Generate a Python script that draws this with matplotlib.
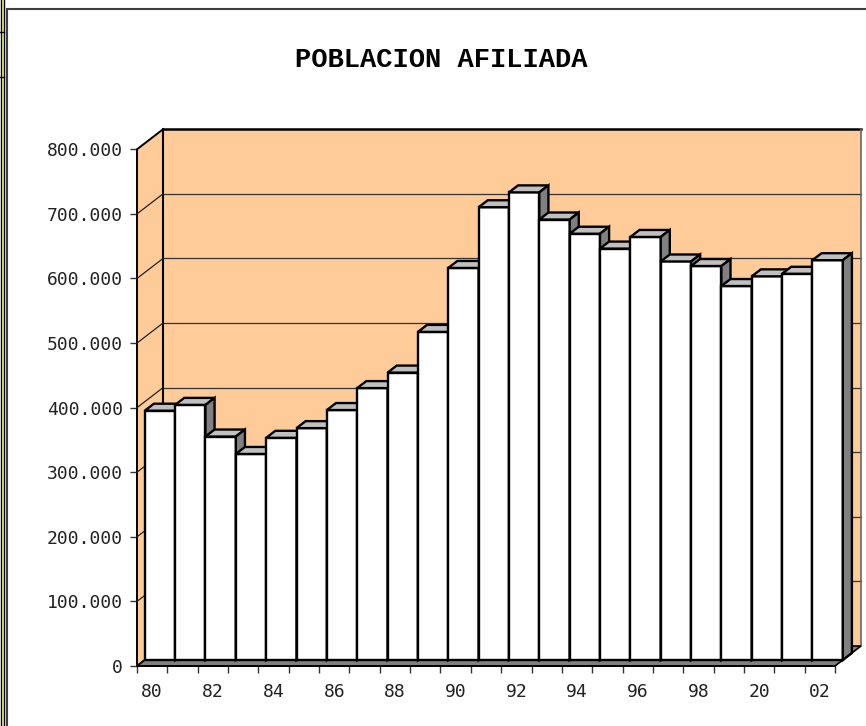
import numpy as np
import matplotlib.pyplot as plt
from matplotlib.patches import Polygon, Rectangle
from matplotlib.lines import Line2D

years = ['80', '81', '82', '83', '84', '85', '86', '87', '88', '89', '90', '91',
         '92', '93', '94', '95', '96', '97', '98', '99', '20', '01', '02']
afiliados = [386000, 395000, 346000, 319000, 344000, 359000, 387000, 421000,
             445000, 508000, 607000, 701000, 724000, 682000, 660000, 637000,
             655000, 617000, 610000, 579000, 594000, 598000, 619000]
yticks = np.arange(0, 800001, 100000)

W, H = 866, 726
n = len(years)
ymax = 800000

# oblique depth of the 3D box, in data units
DX = 26 / (698 / n)
DY = 20 * ymax / 516.7
wall = '#FFCC99'

fig = plt.figure(figsize=(W / 100, H / 100), dpi=100)
ax = fig.add_axes([137 / W, (H - 666) / H, 698 / W, (666 - 149.3) / H])
ax.set_xlim(0, n)
ax.set_ylim(0, ymax)
for s in ax.spines.values():
    s.set_visible(False)
ax.patch.set_visible(False)


def poly(pts, fc, ec='black', lw=1.4, z=1):
    ax.add_patch(Polygon(pts, closed=True, fc=fc, ec=ec, lw=lw, zorder=z,
                         clip_on=False, joinstyle='miter'))


# back wall and left wall
poly([(DX, DY), (n + DX, DY), (n + DX, ymax + DY), (DX, ymax + DY)], wall, ec='none', z=1)
poly([(0, 0), (0, ymax), (DX, ymax + DY), (DX, DY)], wall, lw=1.4, z=2)
for v in yticks[1:-1]:
    ax.add_line(Line2D([DX, n + DX], [v + DY] * 2, color='#333333', lw=0.9, zorder=1.5, clip_on=False))
    ax.add_line(Line2D([0, DX], [v, v + DY], color='#222222', lw=0.9, zorder=2.5, clip_on=False))
ax.add_line(Line2D([DX, n + DX], [ymax + DY] * 2, color='black', lw=1.8, zorder=2, clip_on=False))
ax.add_line(Line2D([DX, DX], [DY, ymax + DY], color='black', lw=1.5, zorder=2, clip_on=False))
ax.add_line(Line2D([n + DX, n + DX], [DY, ymax + DY], color='#666666', lw=1.2, zorder=2, clip_on=False))

# floor
poly([(0, 0), (n, 0), (n + DX, DY), (DX, DY)], '#808080', lw=1.2, z=3)

# bars
f0, f1 = 0.3, 0.65
for i, v in enumerate(afiliados):
    x0 = i + f0 * DX
    x1 = x0 + 1
    y0 = f0 * DY
    y1 = v + y0
    ddx = (f1 - f0) * DX
    ddy = (f1 - f0) * DY
    z = 4 + i * 0.1
    poly([(x0, y0), (x1, y0), (x1, y1), (x0, y1)], 'white', lw=1.7, z=z)
    poly([(x0, y1), (x1, y1), (x1 + ddx, y1 + ddy), (x0 + ddx, y1 + ddy)], '#C0C0C0', lw=1.7, z=z)
    poly([(x1, y0), (x1 + ddx, y0 + ddy), (x1 + ddx, y1 + ddy), (x1, y1)], '#808080', lw=1.7, z=z)

ax.add_line(Line2D([0, n], [0, 0], color='black', lw=1.4, zorder=10, clip_on=False))

# axes ticks
ax.set_yticks(yticks)
ax.set_yticklabels(['0' if v == 0 else f'{v // 1000}.000' for v in yticks])
ax.set_xticks(range(n + 1))
ax.set_xticklabels([])
ax.set_xticks(np.arange(0, n, 2) + 0.5, minor=True)
ax.set_xticklabels(years[::2], minor=True)
ax.tick_params(axis='y', length=5, width=1, color='#333333', pad=5, labelsize=13, labelcolor='#222222')
ax.tick_params(axis='x', which='major', length=5, width=1, color='#333333')
ax.tick_params(axis='x', which='minor', length=0, pad=12, labelsize=13, labelcolor='#222222')
for lab in ax.get_yticklabels() + ax.get_xticklabels(minor=True):
    lab.set_fontfamily('DejaVu Sans Mono')

fig.text(441 / W, 1 - 60 / H, 'POBLACION AFILIADA', ha='center', va='center',
         family='Liberation Mono', weight='bold', fontsize=19.5)

# outer frame and the spreadsheet strip on the left
fig.patches.append(Rectangle((6.5 / W, -0.1), 1.2, (H - 9) / H + 0.1, transform=fig.transFigure,
                             fill=False, ec='#404040', lw=1.5))
fig.patches.append(Rectangle((0.5 / W, -0.1), 3 / W, 1.2, transform=fig.transFigure,
                             fc='#FFFF66', ec='black', lw=1))
for yy in (32, 77):
    fig.lines.append(Line2D([0, 4 / W], [1 - yy / H] * 2, transform=fig.transFigure, color='black', lw=1))

fig.savefig('out.png', dpi=100)
